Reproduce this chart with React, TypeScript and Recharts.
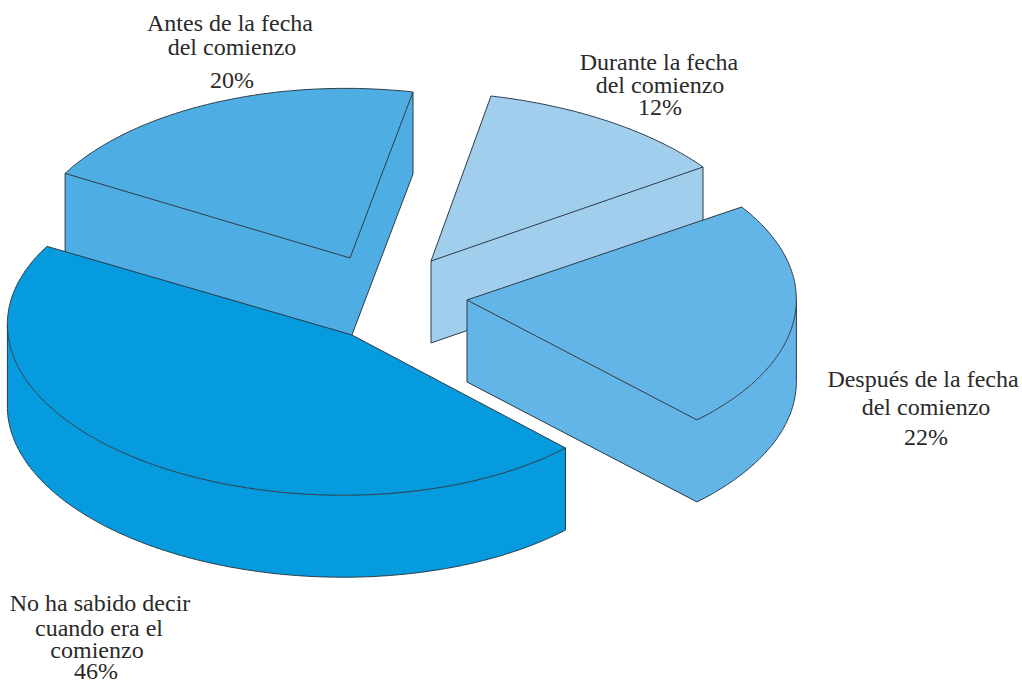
import React from 'react';
import { PieChart, Pie } from 'recharts';

const categories = ['Antes de la fecha del comienzo', 'Durante la fecha del comienzo', 'Después de la fecha del comienzo', 'No ha sabido decir cuando era el comienzo'];
const values = [20, 12, 22, 46];
const colors = ['#4EAEE3', '#A2CEEE', '#63B5E8', '#069BDE'];
const labelLines = [
  ['Antes de la fecha', 'del comienzo', '20%'],
  ['Durante la fecha', 'del comienzo', '12%'],
  ['Después de la fecha', 'del comienzo', '22%'],
  ['No ha sabido decir', 'cuando era el', 'comienzo', '46%'],
];

// presentation only: where each exploded, tilted slice and its text sit
const CX = 400;
const CY = 300;
const RADIUS = 100;
const DEPTH = 82;
const sliceLayout = [
  { center: [350, 258], apex: [350, 258], u: [63, -166], v: [320, 35] },
  { center: [431, 261], apex: [431, 261], u: [60, -165], v: [333.5, 38.4] },
  { center: [467, 300], apex: [467, 300], u: [75.9, -163.5], v: [320.5, 38.3] },
  { center: [330, 331], apex: [352, 335], u: [60, -160], v: [317, 37] },
];
const labelLayout = [
  [[230, 31], [232, 55], [232, 88]],
  [[659, 70], [660, 93], [660, 115]],
  [[923, 387], [926, 415], [926, 445]],
  [[100, 611], [99, 636], [97, 658], [96, 679]],
];

const STROKE = '#2B3A45';

function Slice3D(props: any) {
  const { startAngle, endAngle, index, cx, cy, outerRadius } = props;
  const g = sliceLayout[index];
  const k = outerRadius / RADIUS;
  const ox = cx - CX;
  const oy = cy - CY;
  const pts: number[][] = [[g.apex[0] + ox, g.apex[1] + oy]];
  const phi0 = 90 - startAngle;
  const phi1 = 90 - endAngle;
  const steps = Math.max(2, Math.ceil(Math.abs(phi1 - phi0) * 2));
  for (let i = 0; i <= steps; i++) {
    const p = ((phi0 + ((phi1 - phi0) * i) / steps) * Math.PI) / 180;
    const c = Math.cos(p);
    const s = Math.sin(p);
    pts.push([
      g.center[0] + ox + k * (g.u[0] * c + g.v[0] * s),
      g.center[1] + oy + k * (g.u[1] * c + g.v[1] * s),
    ]);
  }
  const n = pts.length;
  const front = pts.map((pt, i) => pts[(i + 1) % n][0] - pt[0] < 0);
  let first = 0;
  for (let i = 0; i < n; i++) {
    if (front[i] && !front[(i - 1 + n) % n]) first = i;
  }
  const run: number[][] = [pts[first]];
  for (let i = first; front[i % n] && run.length <= n; i++) run.push(pts[(i + 1) % n]);
  const lower = run.map(([x, y]) => [x, y + DEPTH]);
  const toPath = (a: number[][]) => a.map(([x, y], i) => `${i ? 'L' : 'M'}${x.toFixed(1)} ${y.toFixed(1)}`).join('');
  const fill = colors[index];
  const wallFill = toPath([...run, ...[...lower].reverse()]) + 'Z';
  const wallEdge = toPath([run[0], ...lower, run[run.length - 1]]);
  return (
    <g>
      <path d={wallFill} fill={fill} stroke="none" />
      <path d={wallEdge} fill="none" stroke={STROKE} strokeWidth={1} />
      <path d={toPath(pts) + 'Z'} fill={fill} stroke={STROKE} strokeWidth={1} strokeLinejoin="round" />
    </g>
  );
}

function SliceLabel(props: any) {
  const { index } = props;
  return (
    <g>
      {labelLines[index].map((line, i) => (
        <text
          key={line}
          x={labelLayout[index][i][0]}
          y={labelLayout[index][i][1]}
          textAnchor="middle"
          fontFamily="'Liberation Serif', serif"
          fontSize={24}
          fill="#2A2A2A"
        >
          {line}
        </text>
      ))}
    </g>
  );
}

const rows = categories.map((name, i) => ({ name, value: values[i] }));

export default function App() {
  return (
    <div style={{ position: 'absolute', left: 0, top: 0, width: 1022, height: 685 }}>
      <PieChart width={1022} height={685} margin={{ top: 0, right: 0, bottom: 0, left: 0 }}>
        <Pie
          data={rows}
          dataKey="value"
          nameKey="name"
          cx={CX}
          cy={CY}
          outerRadius={RADIUS}
          startAngle={162}
          endAngle={-198}
          paddingAngle={0}
          isAnimationActive={false}
          shape={Slice3D}
          label={SliceLabel}
          labelLine={false}
        />
      </PieChart>
    </div>
  );
}
